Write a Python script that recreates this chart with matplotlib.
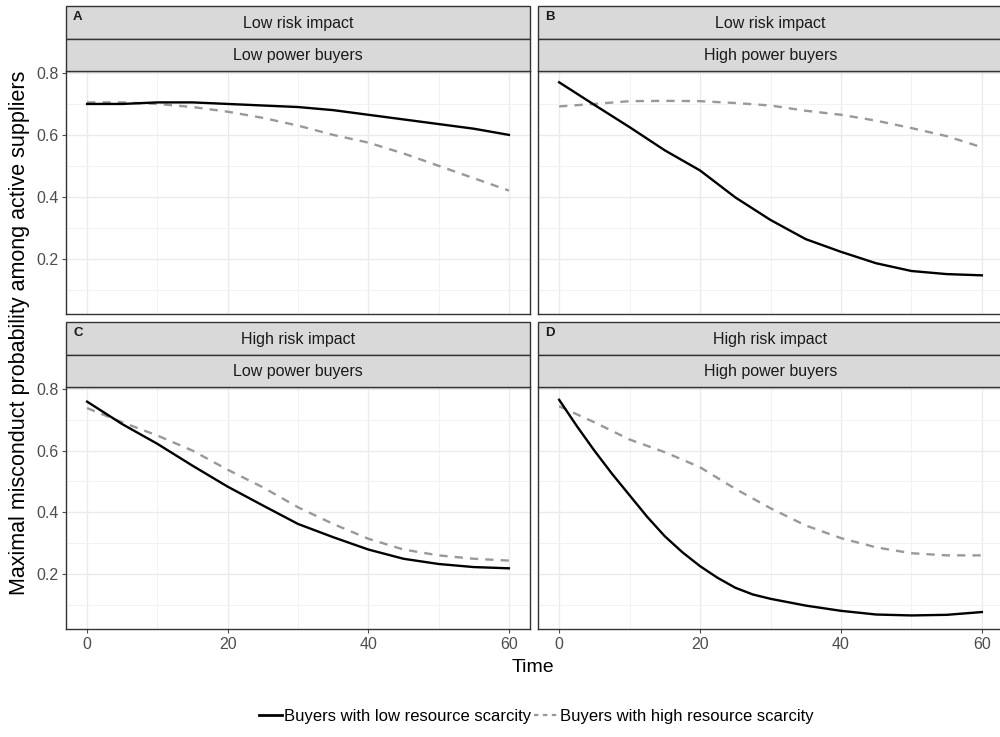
import matplotlib.pyplot as plt
from matplotlib.patches import Rectangle
from matplotlib.lines import Line2D

plt.rcParams['font.family'] = ['Liberation Sans', 'DejaVu Sans']

# Datos
tiempo = [0, 5, 10, 15, 20, 25, 30, 35, 40, 45, 50, 55, 60]
tiempo_d = [0, 2.5, 5, 7.5, 10, 12.5, 15, 17.5, 20, 22.5, 25, 27.5, 30, 35, 40, 45, 50, 55, 60]

a_baja = [0.700, 0.700, 0.705, 0.705, 0.700, 0.695, 0.690, 0.680, 0.665, 0.650, 0.635, 0.620, 0.600]
a_alta = [0.705, 0.705, 0.700, 0.690, 0.675, 0.655, 0.630, 0.600, 0.575, 0.540, 0.500, 0.460, 0.420]

b_baja = [0.770, 0.697, 0.625, 0.550, 0.485, 0.398, 0.325, 0.263, 0.222, 0.185, 0.160, 0.150, 0.146]
b_alta = [0.692, 0.700, 0.709, 0.710, 0.709, 0.703, 0.695, 0.678, 0.665, 0.646, 0.622, 0.596, 0.560]

c_baja = [0.759, 0.686, 0.622, 0.551, 0.483, 0.422, 0.362, 0.319, 0.279, 0.249, 0.232, 0.222, 0.218]
c_alta = [0.738, 0.692, 0.649, 0.600, 0.538, 0.481, 0.416, 0.362, 0.314, 0.279, 0.260, 0.249, 0.243]

d_baja = [0.765, 0.680, 0.600, 0.525, 0.455, 0.385, 0.322, 0.270, 0.225, 0.187, 0.155,
          0.133, 0.119, 0.097, 0.080, 0.068, 0.065, 0.067, 0.076]
d_alta = [0.744, 0.692, 0.636, 0.595, 0.546, 0.476, 0.413, 0.357, 0.316, 0.286, 0.267, 0.260, 0.260]

letras = ['A', 'B', 'C', 'D']
riesgo = ['Low risk impact', 'Low risk impact', 'High risk impact', 'High risk impact']
poder = ['Low power buyers', 'High power buyers', 'Low power buyers', 'High power buyers']
series = [(tiempo, a_baja, a_alta), (tiempo, b_baja, b_alta),
          (tiempo, c_baja, c_alta), (tiempo_d, d_baja, d_alta)]

etiqueta_baja = 'Buyers with low resource scarcity'
etiqueta_alta = 'Buyers with high resource scarcity'

W, H = 1000, 737
fig = plt.figure(figsize=(W / 100, H / 100), dpi=100)

# posiciones en pixeles: (izq, der) y (arriba del area, abajo del area)
cols = [(66, 530), (538, 1003)]
filas = [(71, 314), (387, 629)]
alto_tira = 32.3

borde = '#333333'
gris = '#999999'
for i in range(4):
    f, c = divmod(i, 2)
    x0, x1 = cols[c]
    y0, y1 = filas[f]
    ax = fig.add_axes([x0 / W, 1 - y1 / H, (x1 - x0) / W, (y1 - y0) / H])
    t_baja, baja, alta = series[i]
    ax.plot(tiempo, alta, color=gris, lw=1.7, ls=(0, (3.5, 3)))
    ax.plot(t_baja, baja, color='black', lw=1.7)
    ax.set_xlim(-3, 63)
    ax.set_ylim(0.021, 0.8065)
    ax.set_xticks([0, 20, 40, 60])
    ax.set_xticks([10, 30, 50], minor=True)
    ax.set_yticks([0.2, 0.4, 0.6, 0.8])
    ax.set_yticks([0.1, 0.3, 0.5, 0.7], minor=True)
    ax.grid(True, which='major', color='#ebebeb', lw=1.0)
    ax.grid(True, which='minor', color='#f2f2f2', lw=0.7)
    ax.set_axisbelow(True)
    for s in ax.spines.values():
        s.set_color(borde)
        s.set_linewidth(1.0)
    ax.tick_params(which='minor', length=0)
    ax.tick_params(which='major', colors='#4d4d4d', labelsize=11.5, length=3, width=0.8, pad=2.5)
    if f == 0:
        ax.tick_params(axis='x', length=0, labelbottom=False)
    if c == 1:
        ax.tick_params(axis='y', length=0, labelleft=False)

    # tiras de facetas
    for k, texto in enumerate([riesgo[i], poder[i]]):
        top = y0 - alto_tira * (2 - k)
        r = Rectangle((x0 / W, 1 - (top + alto_tira) / H), (x1 - x0) / W, alto_tira / H,
                      transform=fig.transFigure, facecolor='#d9d9d9', edgecolor=borde, lw=1.0)
        fig.add_artist(r)
        fig.text((x0 + x1) / 2 / W, 1 - (top + alto_tira / 2 + 1) / H, texto,
                 ha='center', va='center', fontsize=11.5, color='#1a1a1a')
    fig.text((x0 + 7) / W, 1 - (y0 - 2 * alto_tira + 11) / H, letras[i],
             ha='left', va='center', fontsize=9.5, fontweight='bold', color='#1a1a1a')

fig.text(533 / W, 1 - 668 / H, 'Time', ha='center', va='center', fontsize=14)
fig.text(20 / W, 1 - 333 / H, 'Maximal misconduct probability among active suppliers',
         ha='center', va='center', rotation=90, fontsize=15.5)

manejadores = [Line2D([], [], color='black', lw=2.0),
               Line2D([], [], color=gris, lw=1.6, ls=(0, (2, 2)))]
fig.legend(manejadores, [etiqueta_baja, etiqueta_alta], loc='center',
           bbox_to_anchor=(536 / W, 1 - 716 / H), ncol=2, frameon=False, fontsize=12,
           handlelength=1.4, handletextpad=0.15, columnspacing=0.15)

fig.savefig('out.png', dpi=100)
